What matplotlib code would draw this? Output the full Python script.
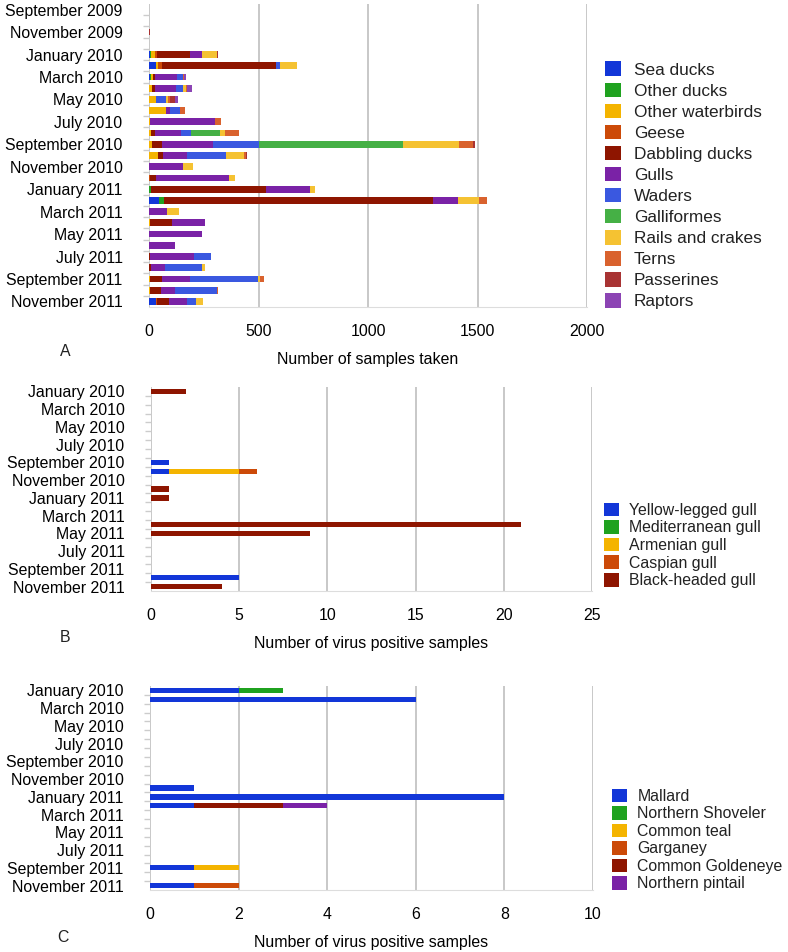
import numpy as np
import matplotlib.pyplot as plt
from matplotlib.patches import Patch

plt.rcParams['font.family'] = ['Liberation Sans', 'DejaVu Sans']
plt.rcParams['text.color'] = '#222222'

# ---- panel A: samples taken per month ----
months_a = ['September 2009', 'October 2009', 'November 2009', 'December 2009',
            'January 2010', 'February 2010', 'March 2010', 'April 2010', 'May 2010',
            'June 2010', 'July 2010', 'August 2010', 'September 2010', 'October 2010',
            'November 2010', 'December 2010', 'January 2011', 'February 2011',
            'March 2011', 'April 2011', 'May 2011', 'June 2011', 'July 2011',
            'August 2011', 'September 2011', 'October 2011', 'November 2011']

groups_a = ['Sea ducks', 'Other ducks', 'Other waterbirds', 'Geese', 'Dabbling ducks',
            'Gulls', 'Waders', 'Galliformes', 'Rails and crakes', 'Terns',
            'Passerines', 'Raptors']

sea_ducks   = [0, 0, 0, 0, 3, 33, 4, 0, 0, 0, 0, 0, 0, 0, 0, 0, 0, 46, 0, 0, 0, 0, 0, 0, 0, 0, 30]
other_ducks = [0, 0, 0, 0, 5, 0, 5, 0, 0, 0, 0, 0, 0, 0, 0, 0, 11, 21, 0, 0, 0, 0, 0, 0, 0, 0, 0]
other_water = [0, 0, 0, 0, 18, 8, 9, 14, 33, 76, 6, 11, 15, 43, 0, 0, 0, 0, 0, 3, 0, 0, 0, 0, 3, 5, 0]
geese       = [0, 0, 0, 0, 12, 20, 0, 0, 0, 0, 0, 0, 0, 0, 0, 5, 0, 0, 0, 3, 0, 0, 0, 0, 0, 0, 8]
dabbling    = [1, 0, 0, 0, 147, 520, 11, 12, 0, 0, 0, 18, 46, 21, 0, 27, 521, 1232, 0, 99, 0, 0, 6, 9, 58, 48, 52]
gulls       = [0, 0, 0, 0, 55, 0, 100, 99, 0, 18, 295, 117, 231, 111, 155, 333, 202, 114, 84, 149, 242, 120, 198, 65, 125, 68, 85]
waders      = [0, 0, 0, 0, 0, 18, 26, 30, 46, 46, 0, 44, 208, 175, 0, 0, 0, 0, 0, 0, 0, 0, 79, 166, 310, 188, 38]
galliformes = [0, 0, 0, 0, 0, 0, 0, 0, 0, 0, 0, 135, 661, 0, 0, 0, 0, 0, 0, 0, 0, 0, 0, 0, 0, 0, 0]
rails       = [0, 0, 0, 0, 70, 76, 0, 12, 6, 0, 0, 20, 256, 82, 44, 27, 26, 94, 52, 0, 0, 0, 0, 15, 12, 0, 32]
terns       = [0, 0, 0, 0, 0, 0, 6, 8, 9, 23, 26, 64, 64, 9, 0, 0, 0, 38, 0, 0, 0, 0, 0, 0, 15, 8, 0]
passerines  = [0, 0, 5, 0, 6, 0, 0, 0, 27, 0, 0, 0, 6, 6, 0, 0, 0, 0, 0, 0, 0, 0, 0, 0, 0, 0, 0]
raptors     = [0, 0, 0, 0, 0, 0, 9, 21, 12, 0, 0, 0, 0, 0, 0, 0, 0, 0, 0, 0, 0, 0, 0, 0, 0, 0, 0]
series_a = [sea_ducks, other_ducks, other_water, geese, dabbling, gulls, waders,
            galliformes, rails, terns, passerines, raptors]
colors_a = ['#1236d8', '#1fa21f', '#f4b400', '#cc4a08', '#8e1500', '#7a22a6',
            '#3a58e0', '#45b045', '#f5c232', '#d9622e', '#a83333', '#8c44b4']

# ---- panels B and C: virus positive samples ----
months_bc = months_a[4:]

gull_species = ['Yellow-legged gull', 'Mediterranean gull', 'Armenian gull',
                'Caspian gull', 'Black-headed gull']
yellow_legged = [0, 0, 0, 0, 0, 0, 0, 0, 1, 1, 0, 0, 0, 0, 0, 0, 0, 0, 0, 0, 0, 5, 0]
mediterranean = [0] * 23
armenian      = [0, 0, 0, 0, 0, 0, 0, 0, 0, 4, 0, 0, 0, 0, 0, 0, 0, 0, 0, 0, 0, 0, 0]
caspian       = [0, 0, 0, 0, 0, 0, 0, 0, 0, 1, 0, 0, 0, 0, 0, 0, 0, 0, 0, 0, 0, 0, 0]
black_headed  = [2, 0, 0, 0, 0, 0, 0, 0, 0, 0, 0, 1, 1, 0, 0, 21, 9, 0, 0, 0, 0, 0, 4]
series_b = [yellow_legged, mediterranean, armenian, caspian, black_headed]
colors_b = ['#1236d8', '#1fa21f', '#f4b400', '#cc4a08', '#8e1500']

duck_species = ['Mallard', 'Northern Shoveler', 'Common teal', 'Garganey',
                'Common Goldeneye', 'Northern pintail']
mallard   = [2, 6, 0, 0, 0, 0, 0, 0, 0, 0, 0, 1, 8, 1, 0, 0, 0, 0, 0, 0, 1, 0, 1]
shoveler  = [1, 0, 0, 0, 0, 0, 0, 0, 0, 0, 0, 0, 0, 0, 0, 0, 0, 0, 0, 0, 0, 0, 0]
teal      = [0, 0, 0, 0, 0, 0, 0, 0, 0, 0, 0, 0, 0, 0, 0, 0, 0, 0, 0, 0, 1, 0, 0]
garganey  = [0, 0, 0, 0, 0, 0, 0, 0, 0, 0, 0, 0, 0, 0, 0, 0, 0, 0, 0, 0, 0, 0, 1]
goldeneye = [0, 0, 0, 0, 0, 0, 0, 0, 0, 0, 0, 0, 0, 2, 0, 0, 0, 0, 0, 0, 0, 0, 0]
pintail   = [0, 0, 0, 0, 0, 0, 0, 0, 0, 0, 0, 0, 0, 1, 0, 0, 0, 0, 0, 0, 0, 0, 0]
series_c = [mallard, shoveler, teal, garganey, goldeneye, pintail]
colors_c = ['#1236d8', '#1fa21f', '#f4b400', '#cc4a08', '#8e1500', '#7a22a6']

W, H = 788, 952
fig = plt.figure(figsize=(W / 100, H / 100), dpi=100)


def px_axes(x0, x1, y0, y1):
    return fig.add_axes([x0 / W, 1 - y1 / H, (x1 - x0) / W, (y1 - y0) / H])


def stacked(ax, months, series, colors, names, xmax, step, xlabel):
    y = np.arange(len(months))
    left = np.zeros(len(months))
    for vals, c, name in zip(series, colors, names):
        vals = np.array(vals, dtype=float)
        ax.barh(y, vals, left=left, height=0.6, color=c, label=name, zorder=3)
        left += vals
    ax.set_ylim(len(months) - 0.5, -0.5)
    ax.set_xlim(0, xmax)
    ax.set_xticks(np.arange(0, xmax + 1, step))
    ax.set_yticks(y[::2])
    ax.set_yticklabels(months[::2])
    ax.set_yticks(y[:-1] + 0.5, minor=True)
    ax.tick_params(axis='y', which='major', length=0, pad=19, labelsize=11.4)
    ax.tick_params(axis='y', which='minor', length=4, color='#cccccc', width=1)
    ax.tick_params(axis='x', length=0, pad=12, labelsize=11.4)
    ax.grid(axis='x', color='#c4c4c4', lw=1.3, zorder=0)
    for s in ['top', 'right', 'left']:
        ax.spines[s].set_visible(False)
    ax.spines['bottom'].set_color('#dddddd')
    ax.set_xlabel(xlabel, fontsize=11.4, labelpad=9.5)


ax_a = px_axes(149, 587, 4, 307)
stacked(ax_a, months_a, series_a, colors_a, groups_a, 2000, 500, 'Number of samples taken')
ax_b = px_axes(151, 592, 387, 591)
stacked(ax_b, months_bc, series_b, colors_b, gull_species, 25, 5, 'Number of virus positive samples')
ax_c = px_axes(150, 593, 686, 890)
stacked(ax_c, months_bc, series_c, colors_c, duck_species, 10, 2, 'Number of virus positive samples')

fig.text(65 / W, 1 - 352 / H, 'A', fontsize=11.4, ha='center', va='center')
fig.text(65 / W, 1 - 638 / H, 'B', fontsize=11.4, ha='center', va='center')
fig.text(63 / W, 1 - 938 / H, 'C', fontsize=11.4, ha='center', va='center')


def side_legend(names, colors, x, ymid, fs, size_px, spacing, rowgap):
    handles = [Patch(facecolor=c, edgecolor='none') for c in colors]
    fs_px = fs * 100 / 72
    fig.legend(handles, names, loc='center left', bbox_to_anchor=(x / W, 1 - ymid / H),
               frameon=False, fontsize=fs, borderpad=0, borderaxespad=0,
               handlelength=size_px / fs_px, handleheight=size_px / fs_px,
               handletextpad=spacing, labelspacing=rowgap)


side_legend(groups_a, colors_a, 605, 185.4, 12.4, 16, 0.75, 0.28)
side_legend(gull_species, colors_b, 604, 545.4, 11.4, 15, 0.65, 0.15)
side_legend(duck_species, colors_c, 612, 840, 11.4, 15, 0.65, 0.14)

fig.savefig('out.png', dpi=100)
